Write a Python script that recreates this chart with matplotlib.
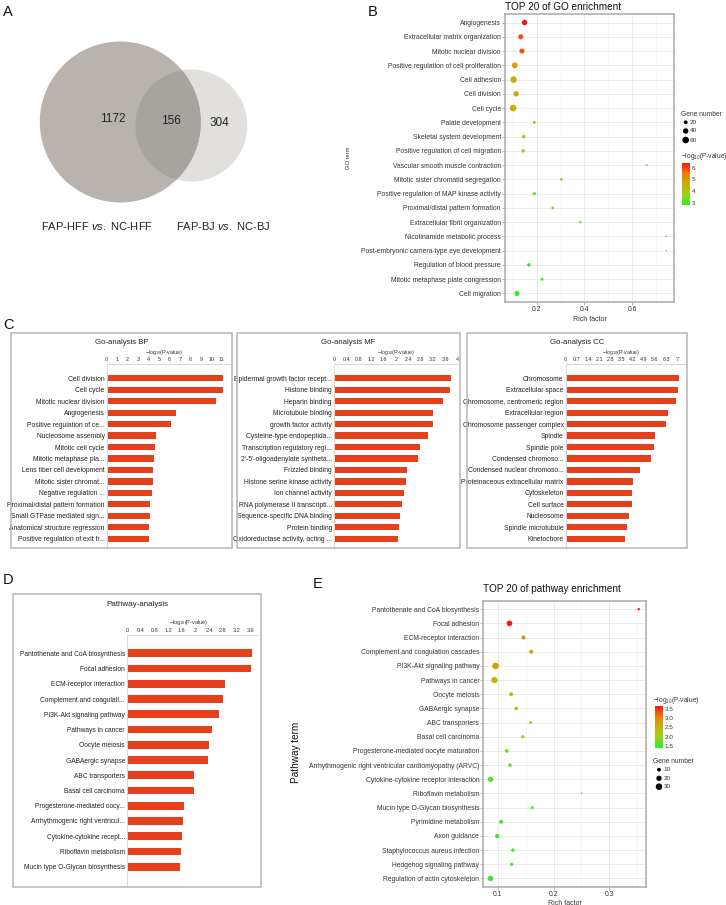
import numpy as np
import matplotlib
matplotlib.use('Agg')
from matplotlib import pyplot as plt
from matplotlib.patches import Circle, Rectangle
from matplotlib.colors import LinearSegmentedColormap, Normalize

plt.rcParams['font.family'] = ['Liberation Sans', 'DejaVu Sans']
plt.rcParams['mathtext.fontset'] = 'custom'
plt.rcParams['mathtext.rm'] = 'Liberation Sans'
plt.rcParams['mathtext.it'] = 'Liberation Sans:italic'

W, H = 726, 905

# ---- data ----
venn_counts = [1172, 156, 304]
venn_labels = ['FAP-HFF $\\mathit{vs.}$ NC-HFF', 'FAP-BJ $\\mathit{vs.}$ NC-BJ']

go_terms = ['Angiogenesis', 'Extracellular matrix organization', 'Mitotic nuclear division',
            'Positive regulation of cell proliferation', 'Cell adhesion', 'Cell division', 'Cell cycle',
            'Palate development', 'Skeletal system development', 'Positive regulation of cell migration',
            'Vascular smooth muscle contraction', 'Mitotic sister chromatid segregation',
            'Positive regulation of MAP kinase activity', 'Proximal/distal pattern formation',
            'Extracellular fibril organization', 'Nicotinamide metabolic process',
            'Post-embryonic camera-type eye development', 'Regulation of blood pressure',
            'Mitotic metaphase plate congression', 'Cell migration']
go_rich = [0.149, 0.133, 0.138, 0.108, 0.103, 0.114, 0.101, 0.19, 0.145, 0.143,
           0.66, 0.303, 0.19, 0.267, 0.382, 0.743, 0.743, 0.167, 0.222, 0.117]
go_logp = [6.42, 5.9, 5.8, 4.9, 4.75, 4.7, 4.65, 3.9, 3.85, 3.8,
           3.6, 3.45, 3.3, 3.25, 3.15, 3.05, 3.0, 2.95, 2.9, 2.83]
go_genes = [40, 35, 35, 45, 55, 40, 60, 12, 17, 17, 5, 10, 15, 10, 7, 3, 3, 17, 12, 35]

bp_terms = ['Cell division', 'Cell cycle', 'Mitotic nuclear division', 'Angiogenesis',
            'Positive regulation of ce...', 'Nucleosome assembly', 'Mitotic cell cycle',
            'Mitotic metaphase pla...', 'Lens fiber cell development', 'Mitotic sister chromat...',
            'Negative regulation ...', 'Proximal/distal pattern formation', 'Small GTPase mediated sign...',
            'Anatomical structure regression', 'Positive regulation of exit fr...']
bp_vals = [11.16, 11.1, 10.43, 6.6, 6.15, 4.69, 4.62, 4.5, 4.43, 4.43, 4.3, 4.17, 4.14, 4.02, 4.02]

mf_terms = ['Epidermal growth factor recept...', 'Histone binding', 'Heparin binding', 'Microtubule binding',
            'growth factor activity', 'Cysteine-type endopeptida...', 'Transcription regulatory regi...',
            "2'-5'-oligoadenylate syntheta...", 'Frizzled binding', 'Histone serine kinase activity',
            'Ion channel activity', 'RNA polymerase II transcripti...', 'Sequence-specific DNA binding',
            'Protein binding', 'Oxidoreductase activity, acting ...']
mf_vals = [3.78, 3.75, 3.54, 3.19, 3.19, 3.05, 2.79, 2.73, 2.36, 2.34, 2.25, 2.21, 2.15, 2.11, 2.08]

cc_terms = ['Chromosome', 'Extracellular space', 'Chromosome, centromeric region', 'Extracellular region',
            'Chromosome passenger complex', 'Spindle', 'Spindle pole', 'Condensed chromoso...',
            'Condensed nuclear chromoso...', 'Proteinaceous extracellular matrix', 'Cytoskeleton',
            'Cell surface', 'Nucleosome', 'Spindle microtubule', 'Kinetochore']
cc_vals = [7.1, 7.04, 6.92, 6.41, 6.31, 5.6, 5.52, 5.37, 4.66, 4.22, 4.14, 4.14, 3.99, 3.82, 3.72]

kegg_terms = ['Pantothenate and CoA biosynthesis', 'Focal adhesion', 'ECM-receptor interaction',
              'Complement and coagulati...', 'PI3K-Akt signaling pathway', 'Pathways in cancer',
              'Oocyte meiosis', 'GABAergic synapse', 'ABC transporters', 'Basal cell carcinoma',
              'Progesterone-mediated oocy...', 'Arrhythmogenic right ventricul...', 'Cytokine-cytokine recept...',
              'Riboflavin metabolism', 'Mucin type O-Glycan biosynthesis']
kegg_vals = [3.65, 3.64, 2.87, 2.82, 2.70, 2.49, 2.41, 2.36, 1.97, 1.95, 1.66, 1.65, 1.61, 1.57, 1.55]

pw_terms = ['Pantothenate and CoA biosynthesis', 'Focal adhesion', 'ECM-receptor interaction',
            'Complement and coagulation cascades', 'PI3K-Akt signaling pathway', 'Pathways in cancer',
            'Oocyte meiosis', 'GABAergic synapse', 'ABC transporters', 'Basal cell carcinoma',
            'Progesterone-mediated oocyte maturation', 'Arrhythmogenic right ventricular cardiomyopathy (ARVC)',
            'Cytokine-cytokine receptor interaction', 'Riboflavin metabolism', 'Mucin type O-Glycan biosynthesis',
            'Pyrimidine metabolism', 'Axon guidance', 'Staphylococcus aureus infection',
            'Hedgehog signaling pathway', 'Regulation of actin cytoskeleton']
pw_rich = [0.353, 0.121, 0.146, 0.160, 0.096, 0.094, 0.124, 0.133, 0.159, 0.145,
           0.116, 0.122, 0.087, 0.250, 0.162, 0.106, 0.099, 0.127, 0.125, 0.087]
pw_logp = [3.65, 3.64, 2.87, 2.82, 2.70, 2.49, 2.41, 2.36, 1.97, 1.95,
           1.66, 1.65, 1.61, 1.57, 1.55, 1.50, 1.48, 1.46, 1.44, 1.40]
pw_genes = [4, 22, 12, 11, 30, 28, 11, 9, 6, 8, 9, 9, 20, 2, 6, 11, 13, 8, 7, 21]

BAR = '#e5401c'
BOX = '#b5b5b5'
TXT = '#333333'
cmap = LinearSegmentedColormap.from_list('gr', ['#2aee2a', '#9ed21a', '#c8b000', '#ee7a10', '#ff1010'])


def px_rect(l, t, r, b):
    return [l / W, 1 - b / H, (r - l) / W, (b - t) / H]


fig = plt.figure(figsize=(W / 100, H / 100), dpi=100)
ov = fig.add_axes([0, 0, 1, 1])
ov.set_xlim(0, W)
ov.set_ylim(H, 0)
ov.axis('off')
ov.set_zorder(5)

for lab, (x, y) in zip('ABCDE', [(3, 12), (368, 12), (3, 325), (3, 580), (313, 584)]):
    ov.text(x, y, lab, fontsize=10.5, va='center', ha='left', color='#111')

# ---- A: venn ----
axA = fig.add_axes(px_rect(0, 0, 360, 300))
axA.set_xlim(0, 360)
axA.set_ylim(300, 0)
axA.axis('off')
small = Circle((191.3, 125.5), 56, color='#e1e0dc', lw=0)
big = Circle((120.3, 122), 80.5, color='#b8b3ad', lw=0)
axA.add_patch(small)
axA.add_patch(big)
inter = Circle((191.3, 125.5), 56, color='#a7a49f', lw=0)
axA.add_patch(inter)
inter.set_clip_path(big)
for cnt, (x, y) in zip(venn_counts, [(113, 119), (171, 121), (219, 123)]):
    axA.text(x, y, str(cnt), fontsize=8.5, ha='center', va='center', color='#222')
for lab, x in zip(venn_labels, [97, 223]):
    axA.text(x, 226, lab, fontsize=8.0, ha='center', va='center', color='#222')


# ---- dot plots ----
def dot_plot(rect, terms, rich, logp, genes, c, xlim, xmaj, xmin, tick_fmt):
    ax = fig.add_axes(rect)
    n = len(terms)
    y = np.arange(n)
    norm = Normalize(min(logp), max(logp))
    s = (0.72 * c) ** 2 * np.array(genes)
    sc = ax.scatter(rich, y, s=s, c=logp, cmap=cmap, norm=norm, edgecolors='none', zorder=3)
    ax.set_xlim(*xlim)
    ax.set_ylim(n - 0.4, -0.6)
    ax.set_yticks(y)
    ax.set_yticklabels(terms)
    ax.set_xticks(xmaj)
    ax.set_xticklabels([tick_fmt % v for v in xmaj])
    ax.set_xticks(xmin, minor=True)
    ax.grid(True, which='major', color='#e6e6e6', lw=0.6)
    ax.grid(True, which='minor', axis='x', color='#f2f2f2', lw=0.5)
    ax.set_axisbelow(True)
    ax.tick_params(axis='both', which='major', labelsize=4.9, length=2, width=0.5,
                   color='#999999', labelcolor=TXT, pad=1)
    ax.tick_params(axis='x', which='minor', length=0)
    for sp in ax.spines.values():
        sp.set_color('#aaaaaa')
        sp.set_linewidth(1.1)
    return ax, sc, norm


axB, scB, normB = dot_plot(px_rect(505, 14, 674, 302), go_terms, go_rich, go_logp, go_genes, 0.86,
                           (0.067, 0.775), [0.2, 0.4, 0.6], [0.1, 0.3, 0.5, 0.7], '%.1f')
axB.set_xlabel('Rich factor', fontsize=5, color=TXT, labelpad=2)
axB.set_title('TOP 20 of GO enrichment', fontsize=7.2, color='#111', pad=3, loc='left')
ov.text(348, 158, 'GO term', fontsize=4.2, rotation=90, ha='center', va='center', color=TXT)

ov.text(681, 114, 'Gene number', fontsize=4.8, ha='left', va='center', color=TXT)
for g, yy in zip([20, 40, 60], [122.3, 131, 140]):
    ov.scatter(685.7, yy, s=(0.72 * 0.86) ** 2 * g, c='black', edgecolors='none')
    ov.text(690, yy, str(g), fontsize=4.6, ha='left', va='center', color=TXT)
ov.text(681, 157, '$-$log$_{10}$(P-value)', fontsize=4.8, ha='left', va='center', color=TXT)
caxB = fig.add_axes(px_rect(682, 162.7, 690, 205))
cbB = fig.colorbar(scB, cax=caxB, ticks=[3, 4, 5, 6])
cbB.outline.set_visible(False)
caxB.tick_params(labelsize=4.6, length=0, pad=1, labelcolor=TXT)

axE, scE, normE = dot_plot(px_rect(483.3, 600.7, 646, 887), pw_terms, pw_rich, pw_logp, pw_genes, 1.2,
                           (0.074, 0.366), [0.1, 0.2, 0.3], [0.15, 0.25, 0.35], '%.1f')
axE.set_xlabel('Rich factor', fontsize=5, color=TXT, labelpad=1)
axE.set_title('TOP 20 of pathway enrichment', fontsize=7.2, color='#111', pad=6, loc='left')
ov.text(296, 752, 'Pathway term', fontsize=7.2, rotation=90, ha='center', va='center', color='#111')

ov.text(653, 700, '$-$log$_{10}$(P-value)', fontsize=4.8, ha='left', va='center', color=TXT)
caxE = fig.add_axes(px_rect(655, 705.7, 663, 747.7))
cbE = fig.colorbar(scE, cax=caxE, ticks=[1.5, 2.0, 2.5, 3.0, 3.5])
cbE.ax.set_yticklabels(['1.5', '2.0', '2.5', '3.0', '3.5'])
cbE.outline.set_visible(False)
caxE.tick_params(labelsize=4.6, length=0, pad=1, labelcolor=TXT)
ov.text(653, 761, 'Gene number', fontsize=4.8, ha='left', va='center', color=TXT)
for g, yy in zip([10, 20, 30], [769.7, 778.3, 786.7]):
    ov.scatter(659, yy, s=(0.72 * 1.2) ** 2 * g, c='black', edgecolors='none')
    ov.text(663.5, yy, str(g), fontsize=4.6, ha='left', va='center', color=TXT)


# ---- bar panels ----
def bar_panel(box, rect, title, title_y, terms, vals, ticks, xmax, ylim, lab_y, tick_fs, lab_fs, title_fs, height):
    l, t, r, b = box
    ov.add_patch(Rectangle((l, t), r - l, b - t, fill=False, ec=BOX, lw=1.1))
    ax = fig.add_axes(px_rect(*rect))
    y = np.arange(len(terms))
    ax.barh(y, vals, height=height, color=BAR, edgecolor='none')
    ax.set_xlim(0, xmax)
    ax.set_ylim(*ylim)
    ax.set_yticks(y)
    ax.set_yticklabels(terms)
    ax.set_xticks(ticks)
    ax.set_xticklabels(['%g' % round(v, 1) for v in ticks])
    ax.xaxis.tick_top()
    ax.tick_params(axis='x', length=0, labelsize=tick_fs, pad=1.2, labelcolor=TXT)
    ax.tick_params(axis='y', length=0, labelsize=lab_fs, pad=1.5, labelcolor='#222')
    for k in ['right', 'bottom']:
        ax.spines[k].set_visible(False)
    for k in ['top', 'left']:
        ax.spines[k].set_color('#d8d8d8')
        ax.spines[k].set_linewidth(0.7)
    x0 = rect[0] + (ticks[-1] - ticks[0]) / xmax * (rect[2] - rect[0]) / 2
    ov.text((l + r) / 2, title_y, title, fontsize=title_fs, ha='center', va='center', color='#222')
    ov.text(x0, lab_y, '$-$log$_{10}$(P-value)', fontsize=tick_fs, ha='center', va='center', color=TXT)
    return ax


bar_panel((11, 333, 232, 548), (106.7, 364, 230, 548), 'Go-analysis BP', 342, bp_terms, bp_vals,
          np.arange(0, 11.01, 1), (230 - 106.7) / 10.45, (14.81, -1.25), 352.7, 3.9, 4.9, 5.6, 0.55)
bar_panel((237, 333, 460, 548), (334, 364, 459, 548), 'Go-analysis MF', 342, mf_terms, mf_vals,
          np.arange(0, 4.01, 0.4), (459 - 334) / 30.9, (14.81, -1.25), 352.7, 3.9, 4.9, 5.6, 0.55)
bar_panel((467, 333, 687, 548), (565.7, 364, 685.7, 548), 'Go-analysis CC', 342, cc_terms, cc_vals,
          np.arange(0, 7.01, 0.7), (685.7 - 565.7) / 15.95, (14.81, -1.25), 352.7, 3.9, 4.9, 5.6, 0.55)
bar_panel((13, 594, 261, 887), (127, 635, 256.7, 887), 'Pathway-analysis', 604, kegg_terms, kegg_vals,
          np.arange(0, 3.61, 0.4), (256.7 - 127) / 34.2, (15.33, -1.2), 622.3, 4.0, 4.8, 5.8, 0.5)

fig.savefig('out.png', dpi=100)
